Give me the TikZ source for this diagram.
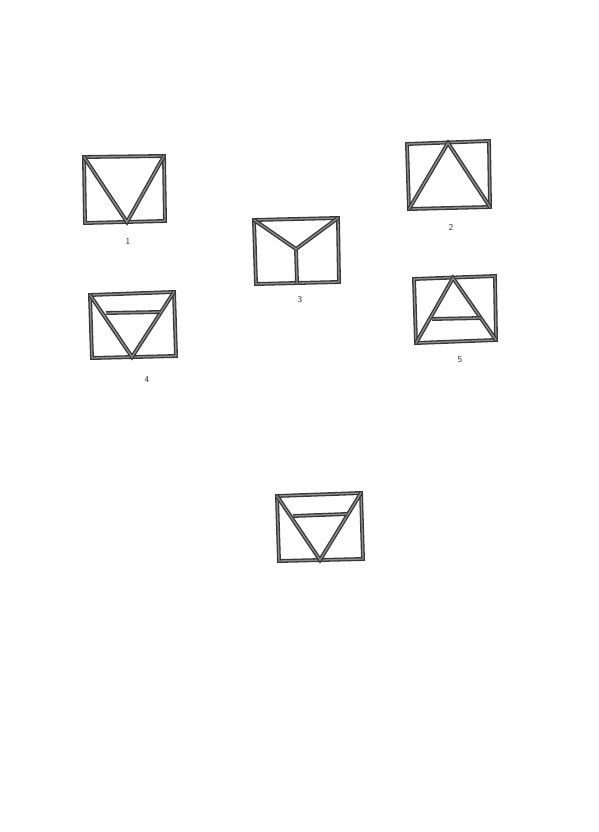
\documentclass[tikz,border=0pt]{standalone}
\begin{document}
\begin{tikzpicture}[x=1pt,y=-1pt,
  bar/.style={draw=black!78, line width=1.3pt, double=black!45, double distance=1.3pt, line join=miter},
  lbl/.style={font=\sffamily\fontsize{9}{10}\selectfont, text=black!80, inner sep=0pt}]
\useasboundingbox (0,0) rectangle (599,832);
\fill[white] (0,0) rectangle (599,832);
% figure 1
\coordinate (a1) at (84,157); \coordinate (b1) at (164,156); \coordinate (c1) at (165,221); \coordinate (d1) at (85,223);
\coordinate (v1) at (127,222);
\draw[bar] (a1) -- (b1) -- (c1) -- (d1) -- cycle;
\draw[bar] (a1) -- (v1) -- (b1);
\node[lbl] (l1) at (128,241) {1};
% figure 2
\coordinate (a2) at (407,144); \coordinate (b2) at (489,141); \coordinate (c2) at (490,207); \coordinate (d2) at (409,209);
\coordinate (v2) at (448,143);
\draw[bar] (a2) -- (b2) -- (c2) -- (d2) -- cycle;
\draw[bar] (d2) -- (v2) -- (c2);
\node[lbl] (l2) at (451,227) {2};
% figure 3
\coordinate (a3) at (254,220); \coordinate (b3) at (338,218); \coordinate (c3) at (339,282); \coordinate (d3) at (256,284);
\coordinate (y3) at (296,249); \coordinate (m3) at (297,283);
\draw[bar] (a3) -- (b3) -- (c3) -- (d3) -- cycle;
\draw[bar] (a3) -- (y3) -- (b3);
\draw[bar] (y3) -- (m3);
\node[lbl] (l3) at (300,300) {3};
% figure 4
\coordinate (a4) at (90,295); \coordinate (b4) at (174,292); \coordinate (c4) at (176,356); \coordinate (d4) at (92,358);
\coordinate (v4) at (132,357);
\coordinate (p4) at (106,313); \coordinate (q4) at (160,312);
\draw[bar] (a4) -- (b4) -- (c4) -- (d4) -- cycle;
\draw[bar] (a4) -- (v4) -- (b4);
\draw[bar] (p4) -- (q4);
\node[lbl] (l4) at (147,380) {4};
% figure 5
\coordinate (a5) at (414,279); \coordinate (b5) at (495,276); \coordinate (c5) at (496,340); \coordinate (d5) at (416,343);
\coordinate (v5) at (453,278);
\coordinate (p5) at (432,319); \coordinate (q5) at (481,318);
\draw[bar] (a5) -- (b5) -- (c5) -- (d5) -- cycle;
\draw[bar] (d5) -- (v5) -- (c5);
\draw[bar] (p5) -- (q5);
\node[lbl] (l5) at (460,360) {5};
% figure 6
\coordinate (a6) at (277,496); \coordinate (b6) at (361,493); \coordinate (c6) at (363,559); \coordinate (d6) at (279,561);
\coordinate (v6) at (320,560);
\coordinate (p6) at (293,516); \coordinate (q6) at (347,514);
\draw[bar] (a6) -- (b6) -- (c6) -- (d6) -- cycle;
\draw[bar] (a6) -- (v6) -- (b6);
\draw[bar] (p6) -- (q6);
\end{tikzpicture}
\end{document}
